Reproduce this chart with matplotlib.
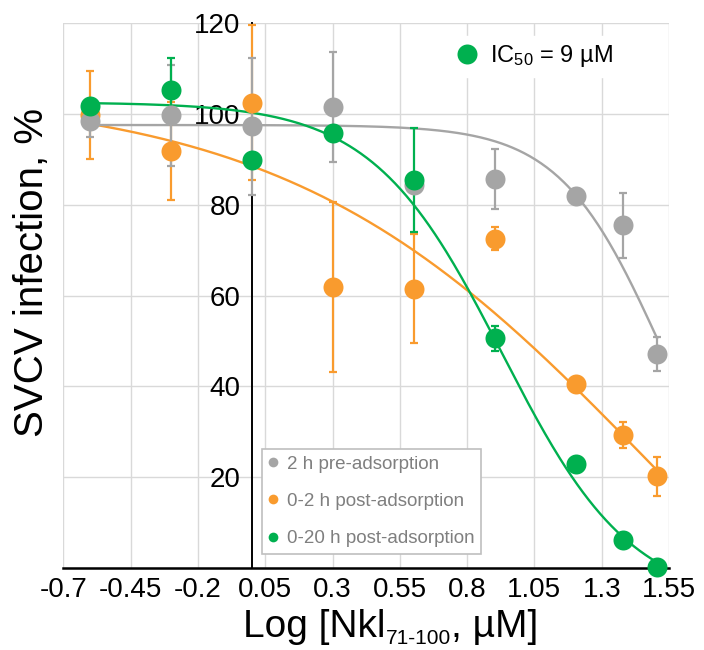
import numpy as np
import matplotlib
matplotlib.use('Agg')
import matplotlib.pyplot as plt
from matplotlib.transforms import IdentityTransform

plt.rcParams['font.family'] = 'Liberation Sans'
plt.rcParams['mathtext.fontset'] = 'custom'
plt.rcParams['mathtext.rm'] = 'Liberation Sans'
plt.rcParams['mathtext.it'] = 'Liberation Sans:italic'
plt.rcParams['mathtext.bf'] = 'Liberation Sans:bold'
plt.rcParams['axes.unicode_minus'] = False

# peptide concentrations (uM), plotted on a log10 axis
conc = [0.25, 0.5, 1, 2, 4, 8, 16, 24, 32]

# SVCV infection (% of control), mean and error
pre_mean = [98.3, 99.6, 97.2, 101.4, 84.4, 85.7, 81.8, 75.4, 47.1]
pre_err = [3.5, 11.1, 15.0, 12.1, 1.5, 6.6, 1.0, 7.1, 3.7]
post2_mean = [99.7, 91.8, 102.4, 61.9, 61.5, 72.5, 40.6, 29.3, 20.2]
post2_err = [9.7, 10.8, 17.0, 18.7, 12.0, 2.6, 1.0, 2.9, 4.2]
post20_mean = [101.7, 105.2, 89.8, 95.7, 85.4, 50.6, 22.9, 6.2, 0.2]
post20_err = [1.0, 7.0, 1.0, 1.0, 11.5, 2.7, 1.0, 1.0, 1.0]

# 4-parameter logistic fits: top, bottom, log IC50, hill slope
pre_fit = (97.5, 0.0, 1.52, 2.3)
post2_fit = (105.0, -60.0, 1.49, 0.64)
post20_fit = (102.5, -8.0, 0.93, 1.8)

labels = ['2 h pre-adsorption', '0-2 h post-adsorption', '0-20 h post-adsorption']
colors = {'gray': '#A5A5A5', 'orange': '#F99B2E', 'green': '#00B04F'}

x_ticks = [-0.7, -0.45, -0.2, 0.05, 0.3, 0.55, 0.8, 1.05, 1.3, 1.55]
x_tick_labels = ['-0.7', '-0.45', '-0.2', '0.05', '0.3', '0.55', '0.8', '1.05', '1.3', '1.55']
y_ticks = [0, 20, 40, 60, 80, 100, 120]
y_tick_labels = ['', '20', '40', '60', '80', '100', '120']


def logistic(x, top, bottom, logic50, hill):
    return bottom + (top - bottom) / (1 + 10 ** ((x - logic50) * hill))


def text_runs(fig, x, y, runs):
    # lay out pieces of text one after another on a baseline (pixels)
    renderer = fig.canvas.get_renderer()
    for s, size, dy in runs:
        t = fig.text(x, y + dy, s, fontsize=size, transform=IdentityTransform(),
                     va='baseline', ha='left')
        x = t.get_window_extent(renderer).x1


log_x = np.log10(conc)
xs = np.linspace(log_x[0], log_x[-1], 300)

fig = plt.figure(figsize=(7.04, 6.5), dpi=100)
ax = fig.add_axes([63.3 / 704, 1 - 568.3 / 650, (669 - 63.3) / 704, (568.3 - 22.7) / 650])

series = [
    (post2_mean, post2_err, post2_fit, colors['orange']),
    (pre_mean, pre_err, pre_fit, colors['gray']),
    (post20_mean, post20_err, post20_fit, colors['green']),
]
for mean, err, fit, c in series:
    ax.plot(xs, logistic(xs, *fit), color=c, lw=1.7, zorder=2)
    ax.errorbar(log_x, mean, yerr=err, fmt='none', ecolor=c, elinewidth=1.6,
                capsize=3, capthick=1.6, zorder=3, clip_on=False)
for mean, err, fit, c in series:
    ax.plot(log_x, mean, 'o', color=c, ms=14.4, mew=0, zorder=4, clip_on=False)

ax.set_xlim(-0.7, 1.55)
ax.set_ylim(0, 120)
ax.set_xticks(x_ticks)
ax.set_xticklabels(x_tick_labels)
ax.set_yticks(y_ticks)
ax.set_yticklabels(y_tick_labels)
ax.grid(True, color='#D9D9D9', lw=1.0)
ax.set_axisbelow(True)
ax.spines['top'].set_visible(False)
ax.spines['right'].set_visible(False)
ax.spines['left'].set_position(('data', 0))
ax.spines['left'].set_zorder(1.2)
ax.spines['left'].set_linewidth(1.4)
ax.spines['bottom'].set_linewidth(1.8)
ax.tick_params(length=0, labelsize=20)
ax.tick_params(axis='x', pad=6)
ax.tick_params(axis='y', pad=8)

# series legend
handles = [ax.plot([], [], 'o', color=c, ms=7, mew=0)[0]
           for c in [colors['gray'], colors['orange'], colors['green']]]
leg = ax.legend(handles, labels, loc='upper left', bbox_to_anchor=(0.328, 0.2187),
                borderaxespad=0, fontsize=13.5, labelcolor='#7F7F7F', frameon=True,
                fancybox=False, edgecolor='#BFBFBF', framealpha=1, borderpad=0.35,
                handlelength=0.47, handletextpad=0.5, labelspacing=1.08)
leg.get_frame().set_linewidth(1.2)
ax.add_artist(leg)

# IC50 note
ic = ax.plot([], [], 'o', color=colors['green'], ms=14.4, mew=0)[0]
ax.legend([ic], ['IC$_{50}$ = 9 µM'], loc='upper left', bbox_to_anchor=(0.638, 0.975),
          borderaxespad=0, fontsize=17, frameon=True, fancybox=False, edgecolor='white',
          facecolor='white', framealpha=1, borderpad=0.3, handlelength=0.85,
          handletextpad=0.55)

fig.text(32 / 704, 1 - 273 / 650, 'SVCV infection, %', fontsize=29, rotation=90,
         ha='center', va='center')
text_runs(fig, 243, 13, [('Log [Nkl', 28, 0), ('71-100', 15, -7), (', µM]', 28, 0)])

fig.savefig('out.png', dpi=100)
